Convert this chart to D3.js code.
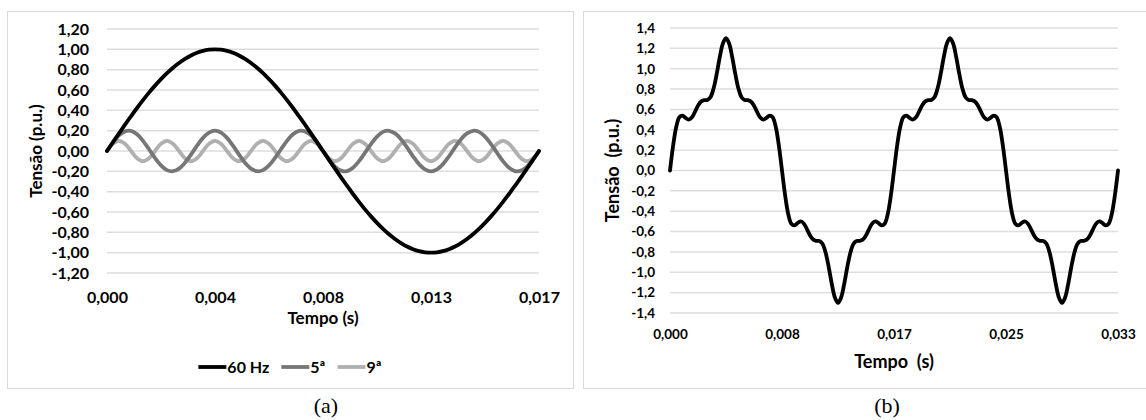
<!DOCTYPE html>
<html>
<head>
<meta charset="utf-8">
<script src="https://cdn.jsdelivr.net/npm/d3@7"></script>
<style>
  body { margin: 0; background: #fff; }
  svg text { font-family: Lato, "Open Sans", sans-serif; font-weight: bold; fill: #000; }
  svg text.caption { font-family: "Liberation Serif", "DejaVu Serif", serif; font-weight: normal; }
</style>
</head>
<body>
<svg id="fig" width="1146" height="420"></svg>
<script>
const periodo = 1 / 60;
const amostrasPorCiclo = 72;

// (a) componentes
const serie60Hz = [0, 0.087, 0.174, 0.259, 0.342, 0.423, 0.5, 0.574, 0.643, 0.707, 0.766, 0.819, 0.866, 0.906, 0.94, 0.966, 0.985, 0.996, 1,
  0.996, 0.985, 0.966, 0.94, 0.906, 0.866, 0.819, 0.766, 0.707, 0.643, 0.574, 0.5, 0.423, 0.342, 0.259, 0.174, 0.087, 0,
  -0.087, -0.174, -0.259, -0.342, -0.423, -0.5, -0.574, -0.643, -0.707, -0.766, -0.819, -0.866, -0.906, -0.94, -0.966, -0.985, -0.996, -1,
  -0.996, -0.985, -0.966, -0.94, -0.906, -0.866, -0.819, -0.766, -0.707, -0.643, -0.574, -0.5, -0.423, -0.342, -0.259, -0.174, -0.087, 0];
const serie5a = [0, 0.085, 0.153, 0.193, 0.197, 0.164, 0.1, 0.017, -0.068, -0.141, -0.188, -0.199, -0.173, -0.115, -0.035, 0.052, 0.129, 0.181, 0.2,
  0.181, 0.129, 0.052, -0.035, -0.115, -0.173, -0.199, -0.188, -0.141, -0.068, 0.017, 0.1, 0.164, 0.197, 0.193, 0.153, 0.085, 0,
  -0.085, -0.153, -0.193, -0.197, -0.164, -0.1, -0.017, 0.068, 0.141, 0.188, 0.199, 0.173, 0.115, 0.035, -0.052, -0.129, -0.181, -0.2,
  -0.181, -0.129, -0.052, 0.035, 0.115, 0.173, 0.199, 0.188, 0.141, 0.068, -0.017, -0.1, -0.164, -0.197, -0.193, -0.153, -0.085, 0];
const serie9a = [0, 0.071, 0.1, 0.071, 0, -0.071, -0.1, -0.071, 0, 0.071, 0.1, 0.071, 0, -0.071, -0.1, -0.071,
  0, 0.071, 0.1, 0.071, 0, -0.071, -0.1, -0.071, 0, 0.071, 0.1, 0.071, 0, -0.071, -0.1, -0.071,
  0, 0.071, 0.1, 0.071, 0, -0.071, -0.1, -0.071, 0, 0.071, 0.1, 0.071, 0, -0.071, -0.1, -0.071,
  0, 0.071, 0.1, 0.071, 0, -0.071, -0.1, -0.071, 0, 0.071, 0.1, 0.071, 0, -0.071, -0.1, -0.071,
  0, 0.071, 0.1, 0.071, 0, -0.071, -0.1, -0.071, 0];

// (b) forma de onda resultante, dois ciclos
const serieResultante = [0, 0.243, 0.427, 0.523, 0.539, 0.516, 0.5, 0.52, 0.575, 0.637, 0.678, 0.691, 0.693, 0.72, 0.805, 0.947, 1.114, 1.248, 1.3,
  1.248, 1.114, 0.947, 0.805, 0.72, 0.693, 0.691, 0.678, 0.637, 0.575, 0.52, 0.5, 0.516, 0.539, 0.523, 0.427, 0.243, 0,
  -0.243, -0.427, -0.523, -0.539, -0.516, -0.5, -0.52, -0.575, -0.637, -0.678, -0.691, -0.693, -0.72, -0.805, -0.947, -1.114, -1.248, -1.3,
  -1.248, -1.114, -0.947, -0.805, -0.72, -0.693, -0.691, -0.678, -0.637, -0.575, -0.52, -0.5, -0.516, -0.539, -0.523, -0.427, -0.243, 0,
  0.243, 0.427, 0.523, 0.539, 0.516, 0.5, 0.52, 0.575, 0.637, 0.678, 0.691, 0.693, 0.72, 0.805, 0.947, 1.114, 1.248, 1.3,
  1.248, 1.114, 0.947, 0.805, 0.72, 0.693, 0.691, 0.678, 0.637, 0.575, 0.52, 0.5, 0.516, 0.539, 0.523, 0.427, 0.243, 0,
  -0.243, -0.427, -0.523, -0.539, -0.516, -0.5, -0.52, -0.575, -0.637, -0.678, -0.691, -0.693, -0.72, -0.805, -0.947, -1.114, -1.248, -1.3,
  -1.248, -1.114, -0.947, -0.805, -0.72, -0.693, -0.691, -0.678, -0.637, -0.575, -0.52, -0.5, -0.516, -0.539, -0.523, -0.427, -0.243, 0];

// eixos
const yTicksA = [1.2, 1.0, 0.8, 0.6, 0.4, 0.2, 0, -0.2, -0.4, -0.6, -0.8, -1.0, -1.2];
const yTicksB = [1.4, 1.2, 1.0, 0.8, 0.6, 0.4, 0.2, 0, -0.2, -0.4, -0.6, -0.8, -1.0, -1.2, -1.4];
const xTicksA = [0, 0.0041667, 0.0083333, 0.0125, 0.0166667];
const xLabelsA = ["0,000", "0,004", "0,008", "0,013", "0,017"];
const xTicksB = [0, 0.0083333, 0.0166667, 0.025, 0.0333333];
const xLabelsB = ["0,000", "0,008", "0,017", "0,025", "0,033"];

const seriesA = [
  { nome: "60 Hz", valores: serie60Hz, cor: "#000000" },
  { nome: "5ª", valores: serie5a, cor: "#767676" },
  { nome: "9ª", valores: serie9a, cor: "#b0b0b0" }
];

const tempo = n => d3.range(n).map(i => i * periodo / amostrasPorCiclo);

const ptBR = d3.formatLocale({ decimal: ",", thousands: ".", grouping: [3], currency: ["", ""], minus: "-" });

const svg = d3.select("#fig");

// Desenha um painel com grade, eixos e curvas
function painel({ frame, plot, yDomain, yTicks, yFormat, xDomain, xTicks, xLabels, series,
  tickSize, tickPadY, tickPadX, titleSize, xTitle, xTitleY, yTitle, yTitleX }) {

  svg.append("rect")
    .attr("x", frame.x + 0.5).attr("y", frame.y + 0.5)
    .attr("width", frame.w).attr("height", frame.h)
    .attr("fill", "none").attr("stroke", "#d9d9d9").attr("stroke-width", 1);

  const x = d3.scaleLinear().domain(xDomain).range([plot.x0, plot.x1]);
  const y = d3.scaleLinear().domain(yDomain).range([plot.y1, plot.y0]);

  // linhas de grade
  svg.append("g").selectAll("line")
    .data(yTicks)
    .join("line")
    .attr("x1", plot.x0).attr("x2", plot.x1)
    .attr("y1", d => y(d)).attr("y2", d => y(d))
    .attr("stroke", "#dedede").attr("stroke-width", 1.5);

  const yAxis = svg.append("g")
    .attr("transform", `translate(${plot.x0},0)`)
    .call(d3.axisLeft(y).tickValues(yTicks).tickSize(0).tickPadding(tickPadY).tickFormat(ptBR.format(yFormat)));
  yAxis.select(".domain").remove();
  yAxis.selectAll("text").style("font-size", tickSize + "px").attr("fill", "#000");

  const xAxis = svg.append("g")
    .attr("transform", `translate(0,${plot.y1})`)
    .call(d3.axisBottom(x).tickValues(xTicks).tickSize(0).tickPadding(tickPadX).tickFormat((d, i) => xLabels[i]));
  xAxis.select(".domain").remove();
  xAxis.selectAll("text").style("font-size", tickSize + "px").attr("fill", "#000");

  const line = d3.line()
    .x(d => x(d[0]))
    .y(d => y(d[1]))
    .curve(d3.curveCatmullRom);

  svg.append("g").selectAll("path")
    .data(series.slice().reverse())
    .join("path")
    .attr("d", s => line(d3.zip(tempo(s.valores.length), s.valores)))
    .attr("fill", "none")
    .attr("stroke", s => s.cor)
    .attr("stroke-width", 3.8)
    .attr("stroke-linejoin", "round")
    .attr("stroke-linecap", "round");

  svg.append("text")
    .attr("x", (plot.x0 + plot.x1) / 2).attr("y", xTitleY)
    .attr("text-anchor", "middle")
    .style("font-size", titleSize + "px")
    .style("white-space", "pre")
    .text(xTitle);

  svg.append("text")
    .attr("transform", `translate(${yTitleX},${(plot.y0 + plot.y1) / 2}) rotate(-90)`)
    .attr("text-anchor", "middle")
    .attr("dy", "0.35em")
    .style("font-size", titleSize + "px")
    .style("white-space", "pre")
    .text(yTitle);
}

painel({
  frame: { x: 7, y: 11, w: 566, h: 377 },
  plot: { x0: 107, x1: 539, y0: 29, y1: 273 },
  yDomain: [-1.2, 1.2], yTicks: yTicksA, yFormat: ".2f",
  xDomain: [0, periodo], xTicks: xTicksA, xLabels: xLabelsA,
  series: seriesA,
  tickSize: 16, tickPadY: 18, tickPadX: 19, titleSize: 17,
  xTitle: "Tempo (s)", xTitleY: 324, yTitle: "Tensão (p.u.)", yTitleX: 36
});

painel({
  frame: { x: 583, y: 11, w: 600, h: 377 },
  plot: { x0: 670, x1: 1118, y0: 28, y1: 313 },
  yDomain: [-1.4, 1.4], yTicks: yTicksB, yFormat: ".1f",
  xDomain: [0, 2 * periodo], xTicks: xTicksB, xLabels: xLabelsB,
  series: [{ nome: "Resultante", valores: serieResultante, cor: "#000000" }],
  tickSize: 13.5, tickPadY: 15, tickPadX: 16, titleSize: 18,
  xTitle: "Tempo  (s)", xTitleY: 368, yTitle: "Tensão  (p.u.)", yTitleX: 613
});

// legenda do painel (a), centrada no quadro
const legenda = svg.append("g").attr("transform", "translate(0,367)");
let cursor = 0;
seriesA.forEach(s => {
  const item = legenda.append("g").attr("transform", `translate(${cursor},0)`);
  item.append("line")
    .attr("x1", 0).attr("x2", 28)
    .attr("stroke", s.cor).attr("stroke-width", 3.8);
  const t = item.append("text")
    .attr("x", 29).attr("dy", "0.35em")
    .style("font-size", "16px")
    .text(s.nome);
  cursor += 29 + t.node().getComputedTextLength() + 12;
});
cursor -= 12;
legenda.attr("transform", `translate(${290 - cursor / 2},367)`);

// legendas das figuras
svg.append("text").attr("class", "caption")
  .attr("x", 326).attr("y", 413).attr("text-anchor", "middle")
  .style("font-size", "22px").text("(a)");
svg.append("text").attr("class", "caption")
  .attr("x", 887).attr("y", 413).attr("text-anchor", "middle")
  .style("font-size", "22px").text("(b)");
</script>
</body>
</html>
